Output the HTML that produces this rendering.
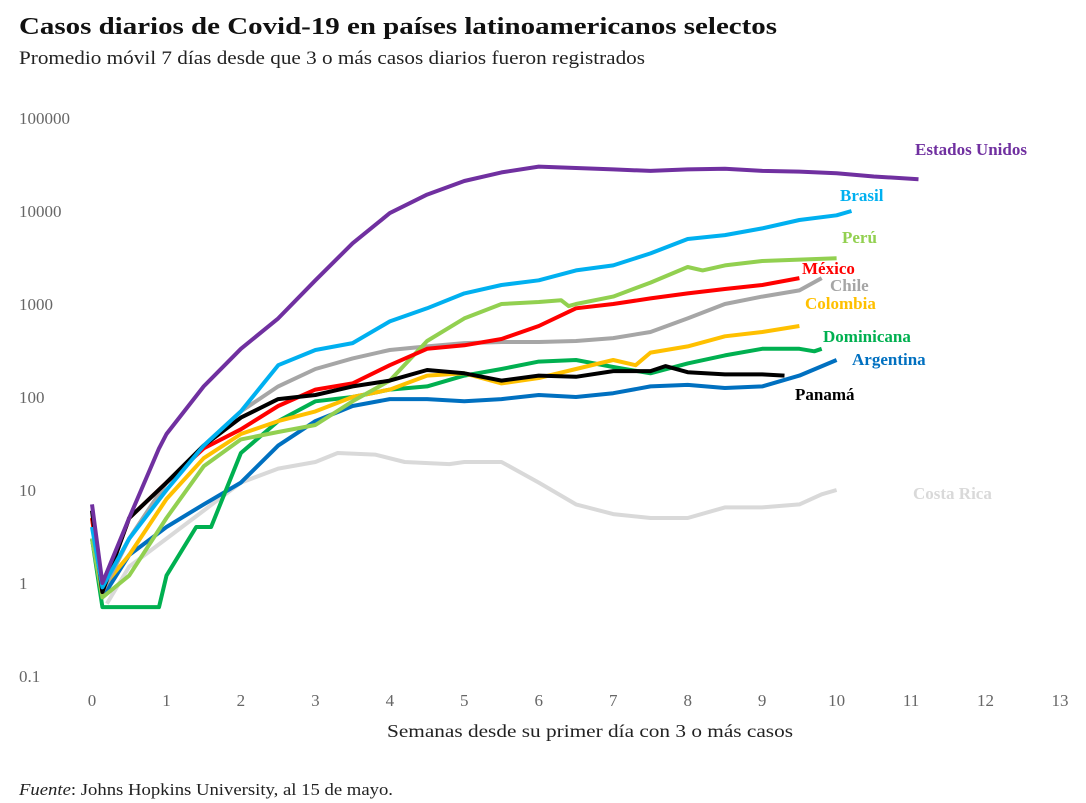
<!DOCTYPE html>
<html><head><meta charset="utf-8">
<style>
body{margin:0;background:#fff;}
svg{display:block;font-family:"Liberation Serif",serif;}
</style></head>
<body>
<svg id="chart" width="1086" height="803" xmlns="http://www.w3.org/2000/svg">
<text x="19" y="34" font-size="24" font-weight="bold" fill="#111" textLength="758" lengthAdjust="spacingAndGlyphs">Casos diarios de Covid-19 en países latinoamericanos selectos</text>
<text x="19" y="64" font-size="19" fill="#222" textLength="626" lengthAdjust="spacingAndGlyphs">Promedio móvil 7 días desde que 3 o más casos diarios fueron registrados</text>
<g id="yticks"></g>
<g id="xticks"></g>
<text x="387" y="737" font-size="18" fill="#222" textLength="406" lengthAdjust="spacingAndGlyphs">Semanas desde su primer día con 3 o más casos</text>
<g id="series"></g>
<g id="labels"></g>
<text x="19" y="795" font-size="17" fill="#222" textLength="374" lengthAdjust="spacingAndGlyphs"><tspan font-style="italic">Fuente</tspan>: Johns Hopkins University, al 15 de mayo.</text>
</svg>
<script>
const yTickValues=[0.1,1,10,100,1000,10000,100000];
const yTickLabels=["0.1","1","10","100","1000","10000","100000"];
const xTickValues=[0,1,2,3,4,5,6,7,8,9,10,11,12,13];
const seriesNames=["Costa Rica","Argentina","Dominicana","Colombia","Chile","Perú","México","Panamá","Brasil","Estados Unidos"];
const seriesColors=["#d9d9d9","#0070c0","#00b050","#ffc000","#a6a6a6","#92d050","#ff0000","#000000","#00b0f0","#7030a0"];
const costaRicaX=[0.2,0.5,1,1.5,2,2.5,3,3.3,3.8,4.2,4.8,5,5.5,6,6.5,7,7.5,8,8.5,9,9.5,9.8,10];
const costaRicaY=[0.6,1.5,3,6,12,17,20,25,24,20,19,20,20,12,7,5.5,5,5,6.5,6.5,7,9,10];
const argentinaX=[0,0.14,0.5,1,1.5,2,2.5,3,3.5,4,4.5,5,5.5,6,6.5,7,7.5,8,8.5,9,9.5,10];
const argentinaY=[3,0.7,2,4,7,12,30,55,80,95,95,90,95,105,100,110,130,135,125,130,170,250];
const dominicanaX=[0,0.14,0.9,1,1.2,1.4,1.6,1.8,2,2.5,3,3.5,4,4.5,5,5.5,6,6.5,7,7.5,8,8.5,9,9.5,9.7,9.8];
const dominicanaY=[3,0.55,0.55,1.2,2.2,4,4,10,25,55,90,100,120,130,170,200,240,250,210,180,230,280,330,330,310,330];
const colombiaX=[0,0.14,0.5,1,1.5,2,2.5,3,3.5,4,4.5,5,5.5,6,6.5,7,7.3,7.5,8,8.5,9,9.5];
const colombiaY=[5,0.9,2,8,22,40,55,70,100,120,170,180,140,160,200,250,220,300,350,450,500,580];
const chileX=[0,0.14,0.5,1,1.5,2,2.5,3,3.5,4,4.5,5,5.5,6,6.5,7,7.5,8,8.5,9,9.5,9.8];
const chileY=[3,0.8,3,12,30,70,130,200,260,320,350,380,390,390,400,430,500,700,1000,1200,1400,1900];
const peruX=[0,0.14,0.5,1,1.5,2,2.5,3,3.5,4,4.5,5,5.5,6,6.3,6.4,6.5,7,7.5,8,8.2,8.5,9,9.5,10];
const peruY=[3,0.7,1.2,5,18,35,42,50,90,150,400,700,1000,1050,1100,950,1000,1200,1700,2500,2300,2600,2900,3000,3100];
const mexicoX=[0,0.14,0.5,1,1.5,2,2.5,3,3.5,4,4.5,5,5.5,6,6.5,7,7.5,8,8.5,9,9.5];
const mexicoY=[5,0.8,5,12,28,45,80,120,140,220,330,360,420,580,900,1000,1150,1300,1450,1600,1900];
const panamaX=[0,0.14,0.5,1,1.5,2,2.5,3,3.5,4,4.5,5,5.5,6,6.5,7,7.5,7.7,8,8.5,9,9.3];
const panamaY=[6,0.8,5,12,30,60,95,105,130,150,195,180,150,170,165,190,190,215,185,175,175,170];
const brasilX=[0,0.14,0.5,1,1.5,2,2.5,3,3.5,4,4.5,5,5.5,6,6.5,7,7.5,8,8.5,9,9.5,10,10.2];
const brasilY=[4,0.9,3,10,30,70,220,320,380,650,900,1300,1600,1800,2300,2600,3500,5000,5500,6500,8000,9000,10000];
const usX=[0,0.14,0.5,0.9,1,1.5,2,2.5,3,3.5,4,4.5,5,5.5,6,6.5,7,7.5,8,8.5,9,9.5,10,10.5,11.1];
const usY=[7,1,5,28,40,130,330,700,1800,4500,9500,15000,21000,26000,30000,29000,28000,27000,28000,28500,27000,26500,25500,23500,22000];
const seriesX=[costaRicaX,argentinaX,dominicanaX,colombiaX,chileX,peruX,mexicoX,panamaX,brasilX,usX];
const seriesY=[costaRicaY,argentinaY,dominicanaY,colombiaY,chileY,peruY,mexicoY,panamaY,brasilY,usY];
const labelText=["Costa Rica","Argentina","Dominicana","Colombia","Chile","Perú","México","Panamá","Brasil","Estados Unidos"];

const NS="http://www.w3.org/2000/svg";
function xs(w){return 92+w*(1060-92)/13;}
function ys(v){return 583-93*Math.log10(v);}

const yg=document.getElementById('yticks');
yTickValues.forEach((v,i)=>{
  const t=document.createElementNS(NS,'text');
  
  
  t.setAttribute('x',19);t.setAttribute('y',ys(v)+6);
  t.setAttribute('font-size','17');t.setAttribute('fill','#666');
  t.textContent=yTickLabels[i];yg.appendChild(t);
});
const xg=document.getElementById('xticks');
xTickValues.forEach(v=>{
  const t=document.createElementNS(NS,'text');
  
  
  t.setAttribute('x',xs(v));t.setAttribute('y',706);
  t.setAttribute('font-size','17');t.setAttribute('fill','#666');
  t.setAttribute('text-anchor','middle');
  t.textContent=String(v);xg.appendChild(t);
});
const sg=document.getElementById('series');
seriesNames.forEach((n,i)=>{
  const p=document.createElementNS(NS,'polyline');
  
  
  p.setAttribute('points',seriesX[i].map((x,j)=>xs(x).toFixed(1)+','+ys(seriesY[i][j]).toFixed(1)).join(' '));
  p.setAttribute('fill','none');p.setAttribute('stroke',seriesColors[i]);
  p.setAttribute('stroke-width','4');p.setAttribute('stroke-linejoin','round');
  sg.appendChild(p);
});
const labelPos=[[913,499],[852,365],[823,342],[805,309],[830,291],[842,243],[802,274],[795,400],[840,201],[915,155]];
const lg=document.getElementById('labels');
labelText.forEach((s,i)=>{
  const t=document.createElementNS(NS,'text');
  
  
  t.setAttribute('x',labelPos[i][0]);t.setAttribute('y',labelPos[i][1]);
  t.setAttribute('font-size','17');t.setAttribute('font-weight','bold');
  t.setAttribute('fill',seriesColors[i]);
  t.textContent=s;lg.appendChild(t);
});
</script>
</body></html>
